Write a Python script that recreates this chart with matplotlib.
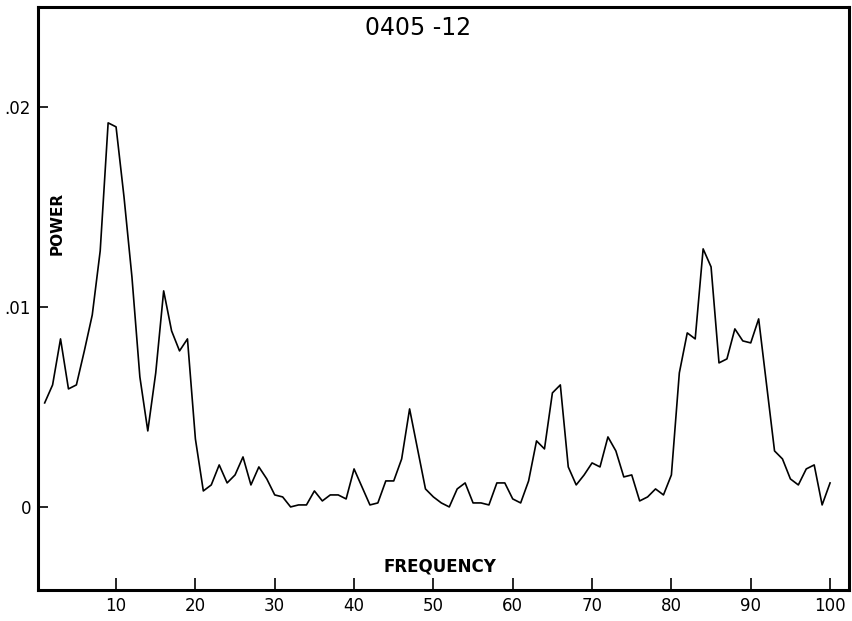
"""Power spectrum 0405-12, redrawn from a scanned plotter chart."""

import matplotlib
matplotlib.use("Agg")
import matplotlib.pyplot as plt
import numpy as np

# frequency 1..100 and power values
frequency = np.arange(1, 101)
power = [
    .0052, .0061, .0084, .0059, .0061, .0078, .0096, .0128, .0192, .0190,
    .0155, .0115, .0065, .0038, .0067, .0108, .0088, .0078, .0084, .0034,
    .0008, .0011, .0021, .0012, .0016, .0025, .0011, .0020, .0014, .0006,
    .0005, .0000, .0001, .0001, .0008, .0003, .0006, .0006, .0004, .0019,
    .0010, .0001, .0002, .0013, .0013, .0024, .0049, .0029, .0009, .0005,
    .0002, .0000, .0009, .0012, .0002, .0002, .0001, .0012, .0012, .0004,
    .0002, .0013, .0033, .0029, .0057, .0061, .0020, .0011, .0016, .0022,
    .0020, .0035, .0028, .0015, .0016, .0003, .0005, .0009, .0006, .0016,
    .0067, .0087, .0084, .0129, .0120, .0072, .0074, .0089, .0083, .0082,
    .0094, .0061, .0028, .0024, .0014, .0011, .0019, .0021, .0001, .0012,
]

x_ticks = [10, 20, 30, 40, 50, 60, 70, 80, 90, 100]
y_ticks = [0, .01, .02]
y_ticklabels = ["0", ".01", ".02"]

FONT = "DejaVu Sans"

fig = plt.figure(figsize=(8.52, 6.21), dpi=100)
ax = fig.add_axes([0.0446, 0.05, 0.952, 0.939])

ax.plot(frequency, power, color="black", lw=1.2)

ax.set_xlim(0.16, 102.4)
ax.set_ylim(-0.00415, 0.025)

ax.set_xticks(x_ticks)
ax.set_xticklabels([str(t) for t in x_ticks], family=FONT, fontsize=12)
ax.set_yticks(y_ticks)
ax.set_yticklabels(y_ticklabels, family=FONT, fontsize=12)
ax.tick_params(axis="x", direction="in", length=9, width=1.2, pad=5)
ax.tick_params(axis="y", direction="in", length=7, width=1.2, pad=5)

for sp in ax.spines.values():
    sp.set_linewidth(2.2)

ax.text(0.4686, 0.964, "0405 -12", transform=ax.transAxes,
        ha="center", va="center", family=FONT, fontsize=17)
ax.text(0.496, 0.041, "FREQUENCY", transform=ax.transAxes,
        ha="center", va="center", family=FONT, fontsize=12, weight="bold")
ax.text(0.0234, 0.628, "POWER", transform=ax.transAxes, rotation=90,
        ha="center", va="center", family=FONT, fontsize=11, weight="bold")

fig.savefig("out.png", dpi=100)
plt.close(fig)
